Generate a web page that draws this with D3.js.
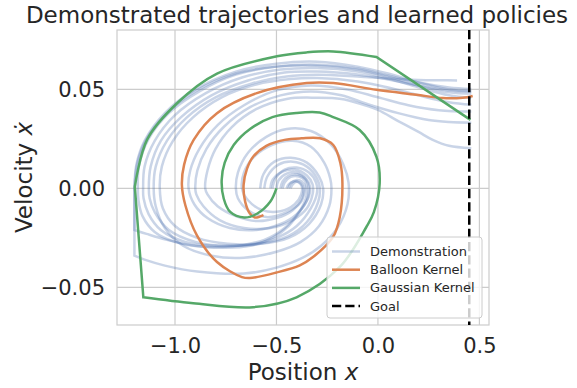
<!DOCTYPE html>
<html>
<head>
<meta charset="utf-8">
<script src="https://cdn.jsdelivr.net/npm/d3@7"></script>
<style>
  body { margin: 0; background: #fff; }
  text { font-family: "DejaVu Sans", sans-serif; fill: #262626; }
</style>
</head>
<body>
<div id="chart"></div>
<script>
// demonstrated trajectories, [position, velocity]; a repeated point marks a sharp corner (wall hit)
const demonstrations = [
	[[-0.44,0],[-0.43,0.0025],[-0.40,0.0042],[-0.375,0.0035],[-0.36,0.001],[-0.362,-0.002],[-0.38,-0.007],[-0.45,-0.012],[-0.55,-0.0145],[-0.64,-0.011],[-0.69,-0.005],[-0.70,0],[-0.69,0.008],[-0.64,0.018],[-0.55,0.026],[-0.45,0.030],[-0.33,0.029],[-0.23,0.022],[-0.17,0.012],[-0.145,0.003],[-0.15,-0.008],[-0.2,-0.02],[-0.28,-0.029],[-0.37,-0.035],[-0.5,-0.040],[-0.66,-0.043],[-0.89,-0.042],[-1.05,-0.039],[-1.15,-0.036],[-1.2,-0.034],[-1.2,-0.034],[-1.2,0],[-1.2,0],[-1.19,0.012],[-1.15,0.024],[-1.05,0.038],[-0.9,0.050],[-0.7,0.059],[-0.5,0.063],[-0.3,0.064],[-0.1,0.0615],[0.05,0.058],[0.2,0.0535],[0.35,0.050],[0.46,0.049]],
	[[-0.50,0],[-0.49,0.004],[-0.45,0.0075],[-0.40,0.008],[-0.355,0.005],[-0.335,0.001],[-0.34,-0.004],[-0.38,-0.011],[-0.44,-0.019],[-0.52,-0.025],[-0.63,-0.029],[-0.75,-0.030],[-0.9,-0.029],[-1.04,-0.026],[-1.14,-0.023],[-1.2,-0.021],[-1.2,-0.021],[-1.2,0],[-1.2,0],[-1.185,0.013],[-1.14,0.025],[-1.04,0.038],[-0.9,0.049],[-0.7,0.058],[-0.5,0.0615],[-0.3,0.062],[-0.1,0.060],[0.05,0.0565],[0.2,0.052],[0.35,0.0485],[0.46,0.0478]],
	[[-0.47,0],[-0.46,0.003],[-0.43,0.0058],[-0.39,0.006],[-0.36,0.004],[-0.35,0],[-0.355,-0.005],[-0.39,-0.012],[-0.46,-0.02],[-0.56,-0.026],[-0.7,-0.029],[-0.86,-0.0295],[-1.0,-0.027],[-1.1,-0.022],[-1.16,-0.014],[-1.18,-0.006],[-1.183,0],[-1.178,0.011],[-1.13,0.025],[-1.03,0.038],[-0.88,0.049],[-0.7,0.0575],[-0.5,0.0615],[-0.3,0.0625],[-0.1,0.0605],[0.05,0.057],[0.2,0.0535],[0.35,0.051],[0.46,0.0502]],
	[[-0.52,0],[-0.505,0.005],[-0.46,0.0095],[-0.40,0.0105],[-0.34,0.008],[-0.305,0.003],[-0.30,-0.002],[-0.33,-0.01],[-0.40,-0.019],[-0.5,-0.025],[-0.64,-0.0285],[-0.8,-0.029],[-0.95,-0.027],[-1.07,-0.021],[-1.13,-0.013],[-1.155,-0.005],[-1.157,0],[-1.15,0.011],[-1.1,0.024],[-1.0,0.037],[-0.85,0.048],[-0.67,0.056],[-0.48,0.060],[-0.3,0.0608],[-0.1,0.059],[0.05,0.0555],[0.2,0.051],[0.35,0.047],[0.46,0.0456]],
	[[-0.56,0],[-0.545,0.006],[-0.49,0.012],[-0.42,0.0135],[-0.35,0.011],[-0.30,0.005],[-0.286,0],[-0.295,-0.007],[-0.35,-0.017],[-0.44,-0.024],[-0.58,-0.028],[-0.74,-0.029],[-0.9,-0.027],[-1.03,-0.021],[-1.1,-0.012],[-1.125,-0.005],[-1.129,0],[-1.12,0.011],[-1.07,0.024],[-0.97,0.036],[-0.82,0.047],[-0.64,0.0545],[-0.46,0.0585],[-0.3,0.059],[-0.1,0.0575],[0.05,0.055],[0.2,0.052],[0.35,0.0495],[0.46,0.049]],
	[[-0.45,0],[-0.44,0.002],[-0.415,0.0035],[-0.39,0.003],[-0.375,0.001],[-0.378,-0.003],[-0.41,-0.008],[-0.48,-0.0115],[-0.57,-0.011],[-0.64,-0.006],[-0.67,0],[-0.66,0.008],[-0.61,0.016],[-0.52,0.022],[-0.42,0.024],[-0.33,0.021],[-0.265,0.013],[-0.235,0.005],[-0.229,0],[-0.24,-0.009],[-0.29,-0.019],[-0.38,-0.027],[-0.5,-0.032],[-0.66,-0.035],[-0.82,-0.034],[-0.96,-0.029],[-1.05,-0.02],[-1.095,-0.009],[-1.105,0],[-1.095,0.011],[-1.04,0.024],[-0.94,0.036],[-0.8,0.046],[-0.62,0.053],[-0.45,0.0565],[-0.3,0.0574],[-0.1,0.0565],[0.05,0.0555],[0.2,0.0548],[0.32,0.0546],[0.39,0.0545]],
	[[-0.58,0],[-0.565,0.007],[-0.51,0.0135],[-0.43,0.0155],[-0.35,0.013],[-0.29,0.006],[-0.27,0],[-0.28,-0.008],[-0.34,-0.018],[-0.44,-0.025],[-0.58,-0.028],[-0.74,-0.028],[-0.89,-0.025],[-1.0,-0.019],[-1.06,-0.01],[-1.075,0],[-1.065,0.011],[-1.01,0.024],[-0.91,0.036],[-0.77,0.046],[-0.6,0.0525],[-0.43,0.0552],[-0.3,0.0557],[-0.1,0.054],[0.05,0.051],[0.2,0.047],[0.35,0.0435],[0.46,0.0422]],
	[[-0.48,0],[-0.47,0.0035],[-0.44,0.0065],[-0.395,0.007],[-0.355,0.0045],[-0.34,0],[-0.35,-0.006],[-0.40,-0.013],[-0.48,-0.018],[-0.6,-0.021],[-0.73,-0.02],[-0.84,-0.015],[-0.905,-0.008],[-0.933,0],[-0.925,0.009],[-0.88,0.02],[-0.79,0.032],[-0.66,0.042],[-0.5,0.0495],[-0.33,0.052],[-0.15,0.050],[0.0,0.046],[0.15,0.042],[0.3,0.0395],[0.46,0.0388]],
	[[-0.53,0],[-0.518,0.0045],[-0.47,0.0085],[-0.41,0.0095],[-0.35,0.0065],[-0.322,0.002],[-0.322,-0.003],[-0.35,-0.01],[-0.42,-0.016],[-0.53,-0.02],[-0.66,-0.02],[-0.78,-0.016],[-0.86,-0.009],[-0.895,-0.003],[-0.90,0],[-0.89,0.009],[-0.845,0.02],[-0.76,0.031],[-0.63,0.041],[-0.48,0.047],[-0.33,0.049],[-0.18,0.047],[-0.05,0.0425],[0.1,0.038],[0.25,0.0345],[0.35,0.0335],[0.46,0.0332]],
	[[-0.43,0],[-0.42,0.002],[-0.40,0.0033],[-0.38,0.0025],[-0.368,0],[-0.375,-0.005],[-0.42,-0.011],[-0.5,-0.015],[-0.6,-0.0165],[-0.7,-0.014],[-0.79,-0.009],[-0.84,-0.003],[-0.851,0],[-0.84,0.009],[-0.8,0.02],[-0.72,0.031],[-0.6,0.040],[-0.45,0.0452],[-0.3,0.0458],[-0.18,0.0452],[-0.08,0.0425],[0.0,0.0397],[0.1,0.034],[0.2,0.0285],[0.27,0.0245],[0.35,0.0215],[0.46,0.0203]]
];

const balloonKernel = [[-0.564,-0.0135],[-0.607,-0.0147],[-0.631,-0.0127],[-0.654,-0.0068],[-0.662,0.0017],[-0.645,0.010],[-0.615,0.016],[-0.55,0.0215],[-0.46,0.0245],[-0.377,0.0253],[-0.285,0.0253],[-0.22,0.0219],[-0.185,0.0127],[-0.175,0.0025],[-0.188,-0.0144],[-0.221,-0.0245],[-0.32,-0.0347],[-0.385,-0.0389],[-0.5,-0.0425],[-0.631,-0.0453],[-0.67,-0.0448],[-0.793,-0.0372],[-0.892,-0.0237],[-0.949,-0.0085],[-0.966,0.0017],[-0.955,0.012],[-0.908,0.0245],[-0.793,0.038],[-0.597,0.0481],[-0.351,0.0532],[-0.22,0.0532],[-0.0074,0.0498],[0.189,0.0473],[0.32,0.0456],[0.418,0.0458],[0.467,0.0467]];

const gaussianKernel = [[-0.5,0],[-0.531,-0.0068],[-0.594,-0.0127],[-0.659,-0.0147],[-0.728,-0.0119],[-0.76,-0.0051],[-0.770,0.0042],[-0.755,0.013],[-0.71,0.022],[-0.63,0.030],[-0.52,0.036],[-0.4,0.0381],[-0.287,0.0383],[-0.221,0.036],[-0.09,0.0295],[-0.0074,0.016],[0.0086,0.0025],[-0.02,-0.012],[-0.057,-0.0195],[-0.188,-0.0397],[-0.401,-0.055],[-0.615,-0.060],[-0.91,-0.058],[-1.156,-0.055],[-1.156,-0.055],[-1.198,0.0008],[-1.198,0.0008],[-1.138,0.0245],[-0.99,0.043],[-0.793,0.058],[-0.498,0.0667],[-0.351,0.0687],[-0.221,0.0692],[-0.0074,0.0664],[-0.0074,0.0664],[0.456,0.0346]];

const goalPosition = 0.45;
const xTicks = [-1.0, -0.5, 0.0, 0.5];
const yTicks = [-0.05, 0.0, 0.05];
const seriesNames = ["Demonstration", "Balloon Kernel", "Gaussian Kernel", "Goal"];

const width = 577, height = 388;
const margin = {top: 30, right: 88, bottom: 63, left: 117};

const svg = d3.select("#chart").append("svg")
	.attr("width", width)
	.attr("height", height);

const x = d3.scaleLinear().domain([-1.2858, 0.5473]).range([margin.left, width - margin.right]);
const y = d3.scaleLinear().domain([-0.0690, 0.0800]).range([height - margin.bottom, margin.top]);

const fmt = v => d3.format(".2f")(v).replace("-", "\u2212");
const fmtX = v => d3.format(".1f")(v).replace("-", "\u2212");

// grid
svg.append("g").selectAll("line").data(xTicks).join("line")
	.attr("x1", d => x(d)).attr("x2", d => x(d))
	.attr("y1", margin.top).attr("y2", height - margin.bottom)
	.attr("stroke", "#cccccc").attr("stroke-width", 1.2);
svg.append("g").selectAll("line").data(yTicks).join("line")
	.attr("y1", d => y(d)).attr("y2", d => y(d))
	.attr("x1", margin.left).attr("x2", width - margin.right)
	.attr("stroke", "#cccccc").attr("stroke-width", 1.2);

// frame
svg.append("rect")
	.attr("x", margin.left).attr("y", margin.top)
	.attr("width", width - margin.left - margin.right)
	.attr("height", height - margin.top - margin.bottom)
	.attr("fill", "none").attr("stroke", "#cccccc").attr("stroke-width", 1.2);

// tick labels
const xAxis = svg.append("g")
	.attr("transform", `translate(0,${height - margin.bottom})`)
	.call(d3.axisBottom(x).tickValues(xTicks).tickFormat(fmtX).tickSize(0).tickPadding(13));
const yAxis = svg.append("g")
	.attr("transform", `translate(${margin.left},0)`)
	.call(d3.axisLeft(y).tickValues(yTicks).tickFormat(fmt).tickSize(0).tickPadding(12));
[xAxis, yAxis].forEach(a => {
	a.select(".domain").remove();
	a.selectAll("text").attr("font-size", 21).attr("font-family", "DejaVu Sans").attr("fill", "#262626");
});

const line = d3.line()
	.x(d => x(d[0]))
	.y(d => y(d[1]))
	.curve(d3.curveCatmullRom.alpha(0.5));

svg.append("g").selectAll("path").data(demonstrations).join("path")
	.attr("d", line)
	.attr("fill", "none")
	.attr("stroke", "#4c72b0")
	.attr("stroke-opacity", 0.3)
	.attr("stroke-width", 2.5);

svg.append("path").datum(balloonKernel)
	.attr("d", line)
	.attr("fill", "none")
	.attr("stroke", "#dd8452")
	.attr("stroke-width", 2.5);

svg.append("path").datum(gaussianKernel)
	.attr("d", line)
	.attr("fill", "none")
	.attr("stroke", "#55a868")
	.attr("stroke-width", 2.5);

svg.append("line")
	.attr("x1", x(goalPosition)).attr("x2", x(goalPosition))
	.attr("y1", margin.top).attr("y2", height - margin.bottom)
	.attr("stroke", "black")
	.attr("stroke-width", 2.5)
	.attr("stroke-dasharray", "9.25,4");

// legend
const legend = svg.append("g").attr("transform", "translate(327,237)");
legend.append("rect")
	.attr("width", 155).attr("height", 81)
	.attr("rx", 3)
	.attr("fill", "white").attr("fill-opacity", 0.8)
	.attr("stroke", "#cccccc").attr("stroke-width", 1);

const legendStyles = [
	{stroke: "#4c72b0", opacity: 0.3, dash: null},
	{stroke: "#dd8452", opacity: 1, dash: null},
	{stroke: "#55a868", opacity: 1, dash: null},
	{stroke: "black", opacity: 1, dash: "9.25,4"}
];

const items = legend.selectAll("g").data(seriesNames).join("g")
	.attr("transform", (d, i) => `translate(0,${14.5 + i * 18.2})`);
items.append("line")
	.attr("x1", 5).attr("x2", 33)
	.attr("stroke", (d, i) => legendStyles[i].stroke)
	.attr("stroke-opacity", (d, i) => legendStyles[i].opacity)
	.attr("stroke-dasharray", (d, i) => legendStyles[i].dash)
	.attr("stroke-width", 2.5);
items.append("text")
	.attr("x", 43).attr("dy", "0.35em")
	.attr("font-size", 13)
	.text(d => d);

// titles
svg.append("text")
	.attr("x", 297)
	.attr("y", 23)
	.attr("text-anchor", "middle")
	.attr("font-size", 23)
	.text("Demonstrated trajectories and learned policies");

const xl = svg.append("text")
	.attr("x", (margin.left + width - margin.right) / 2)
	.attr("y", 380)
	.attr("text-anchor", "middle")
	.attr("font-size", 23);
xl.append("tspan").text("Position ");
xl.append("tspan").attr("font-style", "italic").text("x");

const yl = svg.append("text")
	.attr("transform", `translate(32,${(margin.top + height - margin.bottom) / 2}) rotate(-90)`)
	.attr("text-anchor", "middle")
	.attr("font-size", 23);
yl.append("tspan").text("Velocity ");
yl.append("tspan").attr("font-style", "italic").text("\u1e8b");
</script>
</body>
</html>
